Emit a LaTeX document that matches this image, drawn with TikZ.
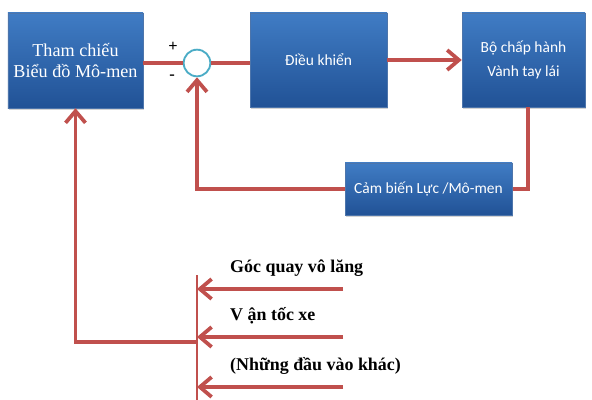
\documentclass[tikz,border=0pt]{standalone}
\usepackage{fontspec}
\setmainfont{Liberation Serif}
\newfontfamily\boxfont{Carlito}
\usepackage{xcolor}
\usetikzlibrary{arrows.meta,positioning,shadows}

\definecolor{boxtop}{RGB}{64,124,196}
\definecolor{boxbot}{RGB}{33,82,150}
\definecolor{sigred}{RGB}{192,80,77}
\definecolor{sumteal}{RGB}{75,172,198}

\begin{document}
\begin{tikzpicture}[
  x=0.03cm, y=-0.03cm,
  blk/.style={top color=boxtop, bottom color=boxbot, draw=boxbot!80!white, align=center,
    text=white, inner sep=2pt, drop shadow={shadow xshift=1pt, shadow yshift=-2pt, opacity=0.35}},
  sansblk/.style={blk, font=\boxfont\fontsize{13.2}{21}\selectfont},
  sumpt/.style={circle, draw=sumteal, fill=white, line width=1.6pt, minimum size=0.8cm, inner sep=0pt},
  sig/.style={draw=sigred, line width=3.2pt},
  arr/.style={sig, -{Straight Barb[length=10pt,width=17pt]}},
  inlbl/.style={anchor=west, font=\bfseries\fontsize{15.3}{17}\selectfont, inner sep=0pt},
  sgn/.style={font=\bfseries\fontsize{14}{16}\selectfont, inner sep=0pt}
]
  \useasboundingbox (0,0) rectangle (592,400);

  % main loop
  \node[blk, minimum width=4.05cm, minimum height=2.85cm, font=\fontsize{15.5}{18}\selectfont]
    (ref) at (75.5,60.5) {Tham chiếu\\Biểu đồ Mô-men};
  \node[sumpt] (sum) at (197,63) {};
  \node[sansblk, minimum width=4.11cm, minimum height=2.82cm] (ctrl) at (318.5,60) {Điều khiển};
  \node[sansblk, minimum width=3.69cm, minimum height=2.82cm] (act) at (523.5,60) {Bộ chấp hành\\Vành tay lái};
  \node[sgn] at (173,47) {+};
  \node[sgn] at (172,77) {-};

  \draw[sig] (ref.east |- sum) -- (sum.west);
  \draw[sig] (sum.east) -- (ctrl.west |- sum);
  \draw[arr] (ctrl.east) -- (act.west);

  % feedback
  \coordinate (fbr) at (528,189);
  \draw[arr] (act.south -| fbr) -- (fbr) -| (sum.south);
  \node[sansblk, minimum width=5.01cm, minimum height=1.56cm] (sens) at (428.5,189) {Cảm biến Lực /Mô-men};

  % other inputs
  \coordinate (bustop) at (197,275);
  \coordinate (busbot) at (197,400);
  \coordinate (busout) at (197,342);
  \draw[sig, line width=2.4pt] (bustop) -- (busbot);
  \draw[arr] (busout) -| (ref.south);
  \foreach \name/\yy/\txt in {ang/289/{Góc quay vô lăng}, spd/337/{V ận tốc xe}, oth/387/{(Những đầu vào khác)}} {
    \coordinate (\name) at (343,\yy);
    \draw[arr] (\name) -- (bustop |- \name);
    \node[inlbl] at (230,\yy-21) {\txt};
  }
\end{tikzpicture}
\end{document}
